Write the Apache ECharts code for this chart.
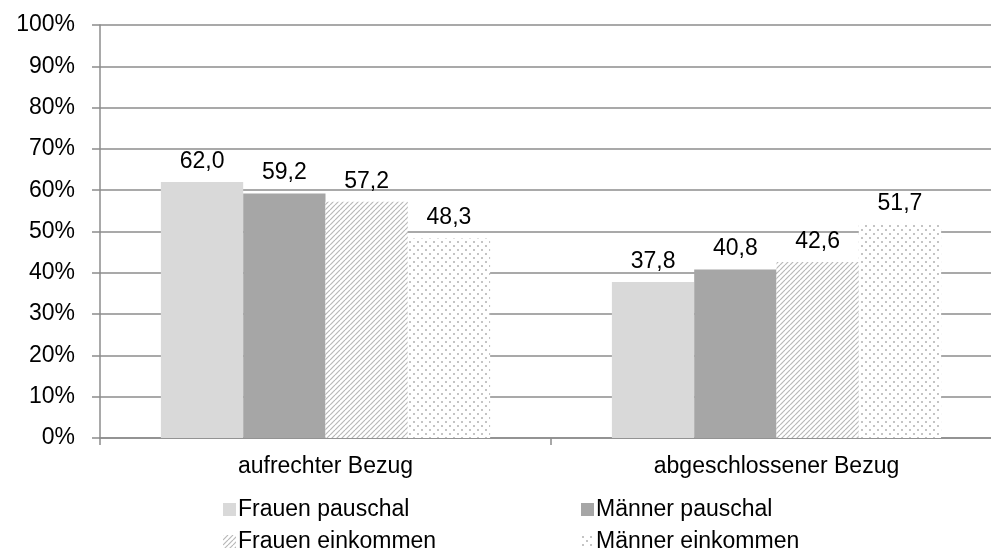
<!DOCTYPE html>
<html>
<head>
<meta charset="utf-8">
<script src="https://cdn.jsdelivr.net/npm/echarts@6/dist/echarts.min.js"></script>
<style>
  html, body { margin: 0; padding: 0; background: #fff; }
  #chart { width: 991px; height: 554px; }
</style>
</head>
<body>
<div id="chart"></div>
<script>
const categories = ["aufrechter Bezug", "abgeschlossener Bezug"];
const frauenPauschal = [62.0, 37.8];
const maennerPauschal = [59.2, 40.8];
const frauenEinkommen = [57.2, 42.6];
const maennerEinkommen = [48.3, 51.7];
const yTicks = [0, 10, 20, 30, 40, 50, 60, 70, 80, 90, 100];

const FONT = "Liberation Sans, Arial, sans-serif";
const FS = 23;
const AXIS_GRAY = "#8c8c8c";

// diagonal stripes for "Frauen einkommen"
function stripePattern() {
  const c = document.createElement("canvas");
  c.width = 5; c.height = 5;
  const ctx = c.getContext("2d");
  ctx.fillStyle = "#ffffff";
  ctx.fillRect(0, 0, 5, 5);
  ctx.strokeStyle = "#b8b8b8";
  ctx.lineWidth = 1.2;
  for (let o = -5; o <= 5; o += 5) {
    ctx.beginPath();
    ctx.moveTo(o, 5);
    ctx.lineTo(o + 5, 0);
    ctx.stroke();
  }
  return c;
}

// staggered dots for "Männer einkommen"
function dotPattern() {
  const c = document.createElement("canvas");
  c.width = 8; c.height = 8;
  const ctx = c.getContext("2d");
  ctx.fillStyle = "#ffffff";
  ctx.fillRect(0, 0, 8, 8);
  ctx.fillStyle = "#c4c4c4";
  ctx.fillRect(1, 1, 2, 2);
  ctx.fillRect(5, 5, 2, 2);
  return c;
}

function fmt(p) {
  return p.value.toFixed(1).replace(".", ",");
}

function barSeries(name, data, color) {
  return {
    name: name,
    type: "bar",
    data: data,
    barGap: "0%",
    barCategoryGap: "27%",
    itemStyle: { color: color },
    label: {
      show: true,
      position: "top",
      distance: 9,
      formatter: fmt,
      color: "#000",
      fontFamily: FONT,
      fontSize: FS
    }
  };
}

function legendCol(names, left) {
  return {
    data: names,
    orient: "vertical",
    left: left, top: 498,
    padding: 0,
    itemWidth: 13, itemHeight: 13, itemGap: 9,
    icon: "rect",
    textStyle: { fontFamily: FONT, fontSize: FS, color: "#000", padding: [0, 0, 0, -3] }
  };
}

const chart = echarts.init(document.getElementById("chart"), null, { renderer: "canvas" });

chart.setOption({
  animation: false,
  backgroundColor: "#fff",
  grid: {
    left: 100, width: 902, top: 25, bottom: 116,
    containLabel: false, outerBoundsMode: "none"
  },
  legend: [
    legendCol(["Frauen pauschal", "Frauen einkommen"], 223),
    legendCol(["Männer pauschal", "Männer einkommen"], 581)
  ],
  xAxis: {
    type: "category",
    data: categories,
    axisLine: { lineStyle: { color: AXIS_GRAY, width: 1.5 } },
    axisTick: { show: true, length: 7, lineStyle: { color: AXIS_GRAY, width: 1.5 } },
    axisLabel: { margin: 17, color: "#000", fontFamily: FONT, fontSize: FS }
  },
  yAxis: {
    type: "value",
    min: yTicks[0],
    max: yTicks[yTicks.length - 1],
    interval: 10,
    axisLine: { show: true, lineStyle: { color: AXIS_GRAY, width: 1.5 } },
    axisTick: { show: true, inside: false, length: 8, lineStyle: { color: AXIS_GRAY, width: 1.5 } },
    splitLine: { show: true, lineStyle: { color: AXIS_GRAY, width: 1.5 } },
    axisLabel: { margin: 25, formatter: "{value}%", color: "#000", fontFamily: FONT, fontSize: FS }
  },
  series: [
    barSeries("Frauen pauschal", frauenPauschal, "#d9d9d9"),
    barSeries("Männer pauschal", maennerPauschal, "#a6a6a6"),
    barSeries("Frauen einkommen", frauenEinkommen, { image: stripePattern(), repeat: "repeat" }),
    barSeries("Männer einkommen", maennerEinkommen, { image: dotPattern(), repeat: "repeat" })
  ]
});

window.addEventListener("resize", () => chart.resize());
</script>
</body>
</html>
